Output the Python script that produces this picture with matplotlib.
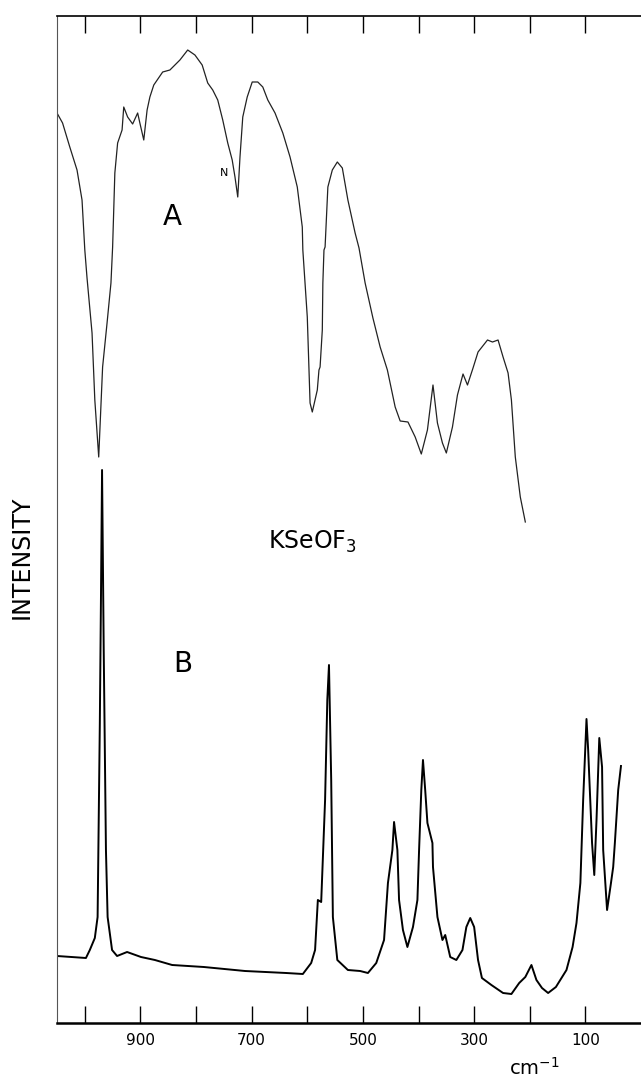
import numpy as np
from matplotlib import pyplot as plt

# Espectro A (IR): numero de onda (cm-1) y altura de la traza (unidades arbitrarias)
a_cm = [1050, 1040, 1027, 1014, 1005, 1000, 996, 987, 982, 975, 968, 960, 953, 950,
        946, 941, 933, 930, 923, 914, 905, 901, 894, 888, 883, 876, 860, 847, 829,
        815, 802, 789, 779, 770, 761, 752, 743, 735, 730, 725, 721, 716, 708, 699,
        689, 680, 671, 658, 644, 631, 618, 609, 608, 600, 595, 591, 582, 579, 577,
        573, 572, 570, 568, 563, 555, 546, 537, 527, 514, 507, 496, 482, 469, 456,
        442, 433, 419, 406, 395, 384, 374, 366, 357, 350, 339, 330, 320, 312, 302,
        293, 276, 267, 257, 248, 239, 233, 226, 217, 208]
a_int = [910, 900, 876, 853, 823, 773, 745, 690, 623, 566, 656, 700, 740, 776,
         850, 880, 893, 916, 906, 899, 910, 900, 883, 913, 926, 938, 951, 953, 963,
         973, 968, 958, 940, 933, 923, 903, 880, 863, 846, 826, 866, 906, 926, 941,
         941, 936, 923, 910, 890, 866, 836, 796, 773, 706, 620, 611, 633, 653, 656,
         693, 740, 773, 776, 836, 853, 861, 855, 823, 790, 775, 740, 705, 676, 653,
         616, 602, 601, 586, 569, 593, 638, 600, 580, 570, 596, 628, 649, 638, 655,
         671, 683, 681, 683, 666, 650, 623, 566, 526, 501]

# Espectro B (Raman)
b_cm = [1050, 998, 991, 982, 977, 973, 971, 969, 966, 962, 959, 951, 942, 924, 899,
        874, 843, 786, 712, 638, 608, 593, 586, 581, 575, 568, 564, 561, 557, 554,
        546, 527, 505, 491, 476, 462, 455, 447, 444, 438, 435, 428, 420, 410, 402,
        399, 395, 392, 388, 384, 375, 374, 366, 357, 352, 343, 332, 321, 314, 307,
        300, 293, 286, 269, 248, 233, 219, 208, 197, 188, 178, 167, 153, 134, 123,
        116, 109, 104, 98, 95, 93, 88, 84, 80, 75, 70, 68, 61, 54, 50, 47, 41, 36]
b_int = [67, 65, 73, 85, 106, 300, 423, 553, 373, 173, 106, 73, 67, 71, 66,
         63, 58, 56, 52, 50, 49, 60, 73, 123, 121, 223, 323, 358, 243, 106,
         63, 53, 52, 50, 60, 83, 140, 173, 201, 173, 123, 93, 76, 96, 123,
         173, 233, 263, 233, 200, 180, 156, 106, 83, 88, 66, 63, 73, 96, 105,
         96, 63, 45, 38, 30, 29, 40, 46, 58, 43, 35, 30, 36, 53, 76,
         100, 140, 223, 304, 273, 246, 180, 148, 203, 285, 256, 173, 113, 140, 156, 180, 233, 257]

ticks = list(range(100, 1001, 100))
tick_labels = [str(t) if (t // 100) % 2 == 1 else "" for t in ticks]

fig = plt.figure(figsize=(6.41, 10.81), dpi=100)
ax = fig.add_axes([57/641, 58/1081, 1 - 57/641, (1023 - 16)/1081])

ax.plot(a_cm, a_int, color="#222222", lw=0.9)
ax.plot(b_cm, b_int, color="black", lw=1.4)

ax.set_xlim(1050, 0)
ax.set_ylim(0, 1007)
ax.set_xticks(ticks)
ax.set_xticklabels(tick_labels, fontsize=11)
ax.set_yticks([])
ax.tick_params(axis="x", direction="in", length=12, width=1, top=True, pad=7)

ax.spines["right"].set_visible(False)
ax.spines["left"].set_linewidth(0.8)
ax.spines["left"].set_color("#555555")
ax.spines["top"].set_linewidth(1.2)
ax.spines["bottom"].set_linewidth(1.8)

ax.text(843, 806, "A", fontsize=20, ha="center", va="center")
ax.text(750, 850, "N", fontsize=8, ha="center", va="center")
ax.text(824, 359, "B", fontsize=20, ha="center", va="center")
ax.text(591, 481, r"KSeOF$_3$", fontsize=17, ha="center", va="center")

fig.text(22/641, 1 - 557/1081, "INTENSITY", fontsize=17, rotation=90,
         ha="center", va="center")
fig.text(534/641, 1 - 1068/1081, r"cm$^{-1}$", fontsize=14, ha="center", va="center")

fig.savefig("out.png", dpi=100)
